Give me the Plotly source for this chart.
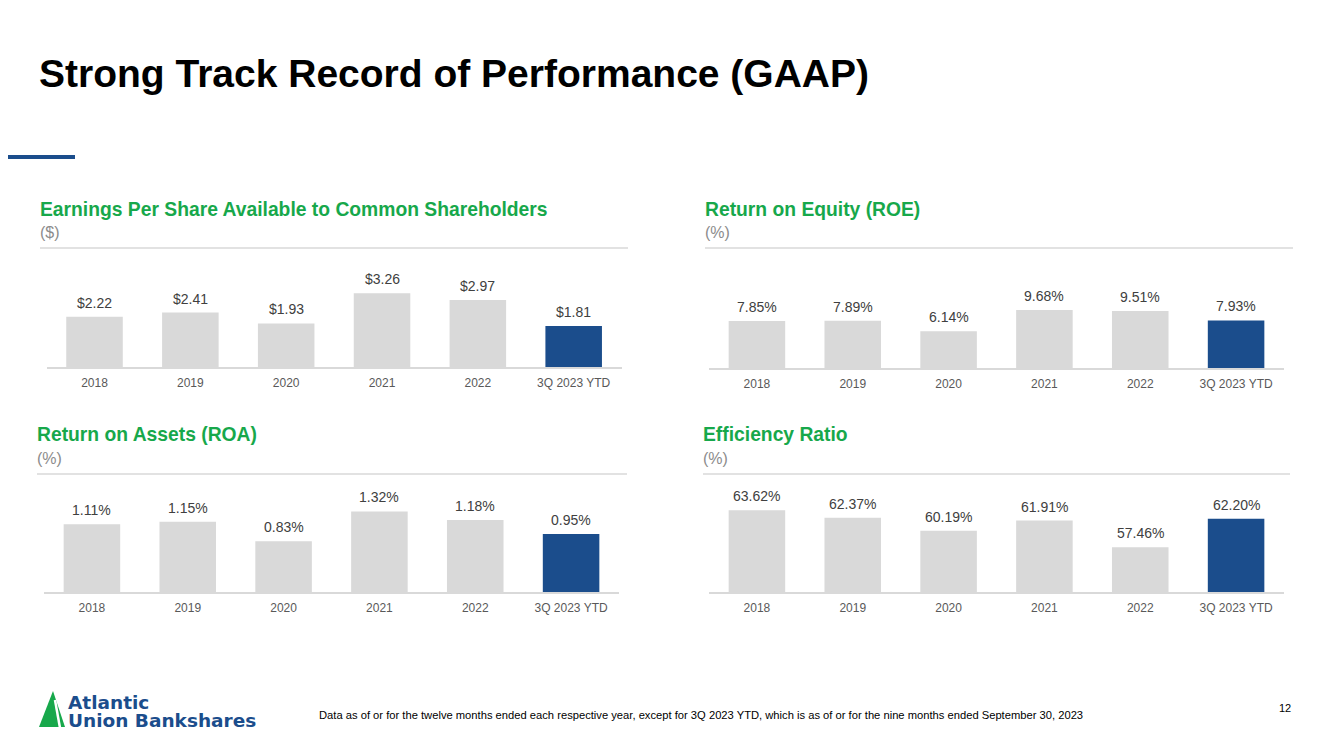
import plotly.graph_objects as go

W, H = 1333, 749
OFF = 8  # page body margin

categories = ["2018", "2019", "2020", "2021", "2022", "3Q 2023 YTD"]
eps_values = [2.22, 2.41, 1.93, 3.26, 2.97, 1.81]
roe_values = [7.85, 7.89, 6.14, 9.68, 9.51, 7.93]
roa_values = [1.11, 1.15, 0.83, 1.32, 1.18, 0.95]
eff_values = [63.62, 62.37, 60.19, 61.91, 57.46, 62.20]

eps_labels = ["$%.2f" % v for v in eps_values]
roe_labels = ["%.2f%%" % v for v in roe_values]
roa_labels = ["%.2f%%" % v for v in roa_values]
eff_labels = ["%.2f%%" % v for v in eff_values]

GRAY_BAR = "#d9d9d9"
BLUE = "#1b4d8c"
GREEN = "#17a84b"
FONT = "Liberation Sans, Arial, sans-serif"


def X(px):
    return (px - OFF) / W


def Y(py):
    return 1 - (py - OFF) / H


bar_colors = [GRAY_BAR] * 5 + [BLUE]

panels = [
    dict(vals=eps_values, labels=eps_labels, title="Earnings Per Share Available to Common Shareholders",
         unit="($)", xd=(46.6, 621.6), yd=(260, 367), yr=(0, 107 / 22.6), tx=38, ty=209, sy=248, sx=(40, 628)),
    dict(vals=roe_values, labels=roe_labels, title="Return on Equity (ROE)",
         unit="(%)", xd=(709, 1284), yd=(260, 368), yr=(0, 108 / 6.0), tx=703, ty=209, sy=248, sx=(705, 1293)),
    dict(vals=roa_values, labels=roa_labels, title="Return on Assets (ROA)",
         unit="(%)", xd=(44, 619), yd=(484, 592), yr=(0, 108 / 61.0), tx=35, ty=435, sy=474, sx=(37, 627)),
    dict(vals=eff_values, labels=eff_labels, title="Efficiency Ratio",
         unit="(%)", xd=(709, 1284), yd=(484, 592), yr=(50, 50 + 108 / 6.0), tx=701, ty=435, sy=474, sx=(703, 1290)),
]

fig = go.Figure()
annotations = []
shapes = []
layout_axes = {}

for i, p in enumerate(panels):
    n = "" if i == 0 else str(i + 1)
    xa, ya = "x" + n, "y" + n
    fig.add_trace(go.Bar(
        x=categories, y=p["vals"], marker=dict(color=bar_colors, line=dict(width=0)),
        width=0.59, xaxis=xa, yaxis=ya, showlegend=False, hoverinfo="skip",
    ))
    layout_axes["xaxis" + n] = dict(
        type="category", categoryorder="array", categoryarray=categories,
        domain=[X(p["xd"][0]), X(p["xd"][1])], anchor=ya, range=[-0.5, 5.5],
        showline=True, linecolor="#d9d9d9", linewidth=1.5, showgrid=False, zeroline=False,
        ticks="outside", ticklen=4, tickcolor="rgba(0,0,0,0)",
        tickfont=dict(family=FONT, size=12, color="#595959"), fixedrange=True,
    )
    layout_axes["yaxis" + n] = dict(
        domain=[Y(p["yd"][1]), Y(p["yd"][0])], anchor=xa, range=list(p["yr"]),
        visible=False, showgrid=False, zeroline=False, fixedrange=True,
    )
    for ci, (v, lab) in enumerate(zip(p["vals"], p["labels"])):
        annotations.append(dict(
            x=ci, y=v, xref=xa, yref=ya, text=lab, showarrow=False,
            yanchor="bottom", xanchor="center", yshift=4,
            font=dict(family=FONT, size=14, color="#404040"),
        ))
    annotations.append(dict(
        x=X(p["tx"]), y=Y(p["ty"]), xref="paper", yref="paper", text="<b>%s</b>" % p["title"],
        showarrow=False, xanchor="left", yanchor="middle",
        font=dict(family=FONT, size=19.3, color=GREEN),
    ))
    annotations.append(dict(
        x=X(p["tx"]), y=Y(p["ty"] + 23), xref="paper", yref="paper", text=p["unit"],
        showarrow=False, xanchor="left", yanchor="middle",
        font=dict(family=FONT, size=16, color="#8c8c8c"),
    ))
    shapes.append(dict(
        type="line", xref="paper", yref="paper",
        x0=X(p["sx"][0]), x1=X(p["sx"][1]), y0=Y(p["sy"]), y1=Y(p["sy"]),
        line=dict(color="#d9d9d9", width=1.5),
    ))

# Main title
annotations.append(dict(
    x=X(37), y=Y(73), xref="paper", yref="paper",
    text="<b>Strong Track Record of Performance (GAAP)</b>", showarrow=False,
    xanchor="left", yanchor="middle", font=dict(family=FONT, size=39, color="#000000"),
))
# Blue accent line
shapes.append(dict(type="line", xref="paper", yref="paper", x0=X(0), x1=X(75), y0=Y(157), y1=Y(157),
                   line=dict(color=BLUE, width=4)))

# Footnote
annotations.append(dict(
    x=X(317), y=Y(715), xref="paper", yref="paper",
    text="Data as of or for the twelve months ended each respective year, except for 3Q 2023 YTD, which is as of or for the nine months ended September 30, 2023",
    showarrow=False, xanchor="left", yanchor="middle", font=dict(family=FONT, size=11.2, color="#000000"),
))
annotations.append(dict(
    x=X(1293), y=Y(708), xref="paper", yref="paper", text="12", showarrow=False,
    xanchor="right", yanchor="middle", font=dict(family=FONT, size=11, color="#000000"),
))

# Logo: green triangle with white diagonal cut
shapes.append(dict(type="path", xref="paper", yref="paper",
                   path="M %f %f L %f %f L %f %f Z" % (X(39), Y(727), X(53), Y(691), X(65), Y(727)),
                   fillcolor=GREEN, line=dict(width=0)))
shapes.append(dict(type="line", xref="paper", yref="paper",
                   x0=X(55), y0=Y(700), x1=X(60), y1=Y(728),
                   line=dict(color="white", width=2.5)))
annotations.append(dict(
    x=X(66), y=Y(702), xref="paper", yref="paper", text="<b>Atlantic</b>", showarrow=False,
    xanchor="left", yanchor="middle", font=dict(family="DejaVu Sans", size=18.5, color=BLUE),
))
annotations.append(dict(
    x=X(66), y=Y(720), xref="paper", yref="paper", text="<b>Union Bankshares</b>", showarrow=False,
    xanchor="left", yanchor="middle", font=dict(family="DejaVu Sans", size=18.5, color=BLUE),
))

fig.update_layout(
    width=W, height=H, margin=dict(l=0, r=0, t=0, b=0),
    paper_bgcolor="white", plot_bgcolor="white",
    annotations=annotations, shapes=shapes, bargap=0.4, **layout_axes,
)

fig.write_html("out.html", config={"displayModeBar": False})
